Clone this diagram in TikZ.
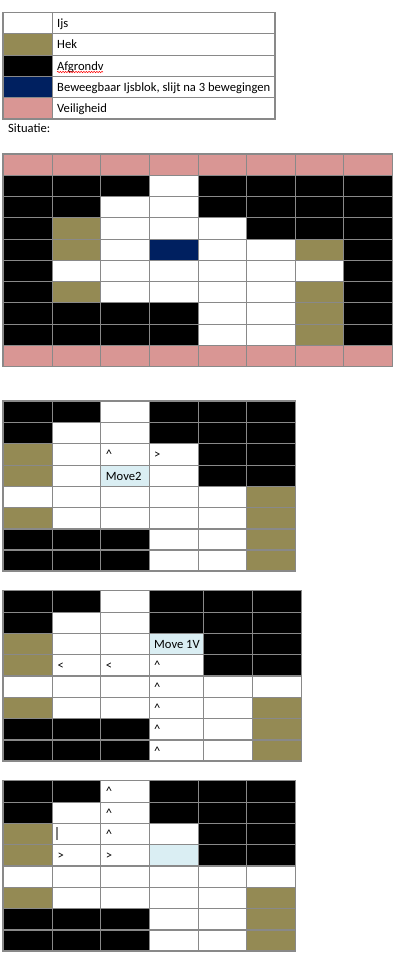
\documentclass[tikz,border=0pt]{standalone}
\usepackage{fontspec}
\setmainfont{Carlito}
\usetikzlibrary{decorations.pathmorphing}
\definecolor{cB}{RGB}{0,0,0}
\definecolor{cW}{RGB}{255,255,255}
\definecolor{cH}{RGB}{148,138,84}
\definecolor{cN}{RGB}{0,32,96}
\definecolor{cP}{RGB}{217,150,148}
\definecolor{cL}{RGB}{218,238,243}
\definecolor{gridgray}{RGB}{137,137,137}
\tikzset{
  gl/.style={draw=gridgray, line width=1.1pt, line cap=rect},
  txt/.style={anchor=base west, inner sep=0pt, font=\fontsize{12.6}{15}\selectfont},
  spell/.style={draw=red, line width=0.5pt, decorate, decoration={snake, amplitude=0.7pt, segment length=2.6pt}}
}
\newcommand\mygrid[3]{%
  \foreach \rowc [count=\j] in {#3} {%
    \foreach \cc [count=\i] in \rowc {%
      \pgfmathsetmacro\xl{{#1}[\i-1]}%
      \pgfmathsetmacro\xr{{#1}[\i]}%
      \pgfmathsetmacro\yt{{#2}[\j-1]}%
      \pgfmathsetmacro\yb{{#2}[\j]}%
      \fill[c\cc] (\xl,\yt) rectangle (\xr,\yb);
    }%
  }%
  \pgfmathtruncatemacro\nx{dim({#1})-1}%
  \pgfmathtruncatemacro\ny{dim({#2})-1}%
  \pgfmathsetmacro\gxl{{#1}[0]}%
  \pgfmathsetmacro\gxr{{#1}[\nx]}%
  \pgfmathsetmacro\gyt{{#2}[0]}%
  \pgfmathsetmacro\gyb{{#2}[\ny]}%
  \foreach \xx in {#1} {\draw[gl] (\xx,\gyt) -- (\xx,\gyb);}%
  \foreach \yy in {#2} {\draw[gl] (\gxl,\yy) -- (\gxr,\yy);}%
}
\begin{document}
\begin{tikzpicture}[x=1pt,y=-1pt]
\useasboundingbox (0,0) rectangle (403,972);
\fill[white] (0,0) rectangle (403,972);

% Legend
\mygrid{3,52.3,275}{12.3,33.7,55.3,76.3,97.7,119}{{W,W},{H,W},{B,W},{N,W},{P,W}}
\node[txt] (l1) at (57,27.5) {Ijs};
\node[txt] (l2) at (57,48.9) {Hek};
\node[txt] (l3) at (57,70.5) {Afgrondv};
\node[txt] (l4) at (57,91.5) {Beweegbaar Ijsblok, slijt na 3 bewegingen};
\node[txt] (l5) at (57,112.9) {Veiligheid};
\draw[spell] (57,72) -- (103,72);
\node[txt] (sit) at (8,132) {Situatie:};

% Grid 1
\mygrid{3,52.3,100.3,149.3,198.3,246.7,295.3,343.7,392.7}{154,175.3,196.7,217.3,239.7,260.3,281.3,302.3,324.3,345.3,366.7}{%
{P,P,P,P,P,P,P,P},
{B,B,B,W,B,B,B,B},
{B,B,W,W,B,B,B,B},
{B,H,W,W,W,B,B,B},
{B,H,W,N,W,W,H,B},
{B,W,W,W,W,W,W,B},
{B,H,W,W,W,W,H,B},
{B,B,B,B,W,W,H,B},
{B,B,B,B,W,W,H,B},
{P,P,P,P,P,P,P,P}}

% Grid 2
\mygrid{3,52.3,100.3,149.3,198.3,246.7,295.7}{401,422.3,443.7,465.3,486.3,507.3,529,550,571}{%
{B,B,W,B,B,B},
{B,W,W,B,B,B},
{H,W,W,W,B,B},
{H,W,L,W,B,B},
{W,W,W,W,W,H},
{H,W,W,W,W,H},
{B,B,B,W,W,H},
{B,B,B,W,W,H}}
\node[txt] (a1) at (105.7,458.9) {\textasciicircum};
\node[txt] (a2) at (154,458.9) {>};
\node[txt] (a3) at (105.7,480.5) {Move2};

% Grid 3
\mygrid{3,52.3,100.3,149.3,203.3,252.3,301.7}{590.7,612.3,633.7,654.7,676,697.3,718.7,740,761}{%
{B,B,W,B,B,B},
{B,W,W,B,B,B},
{H,W,W,L,B,B},
{H,W,W,W,B,B},
{W,W,W,W,W,W},
{H,W,W,W,W,H},
{B,B,B,W,W,H},
{B,B,B,W,W,H}}
\node[txt] (b1) at (154,648.9) {Move 1V};
\node[txt] (b2) at (57.3,669.9) {<};
\node[txt] (b3) at (105.7,669.9) {<};
\node[txt] (b4) at (154,669.9) {\textasciicircum};
\node[txt] (b5) at (154,691.2) {\textasciicircum};
\node[txt] (b6) at (154,712.5) {\textasciicircum};
\node[txt] (b7) at (154,733.9) {\textasciicircum};
\node[txt] (b8) at (154,755.2) {\textasciicircum};

% Grid 4
\mygrid{3,52.3,100.3,149.3,198.3,246.7,295.7}{780.7,802.3,823.7,844.7,866,887.3,908.7,930,951}{%
{B,B,W,B,B,B},
{B,W,W,B,B,B},
{H,W,W,W,B,B},
{H,W,W,L,B,B},
{W,W,W,W,W,W},
{H,W,W,W,W,H},
{B,B,B,W,W,H},
{B,B,B,W,W,H}}
\node[txt] (c1) at (105.7,795.9) {\textasciicircum};
\node[txt] (c2) at (105.7,817.5) {\textasciicircum};
\node[txt] (c3) at (105.7,838.9) {\textasciicircum};
\node[txt] (c4) at (57.3,859.9) {>};
\node[txt] (c5) at (105.7,859.9) {>};
\draw[draw=gray, line width=1.3pt] (56.9,827.3) -- (56.9,840);
\end{tikzpicture}
\end{document}
